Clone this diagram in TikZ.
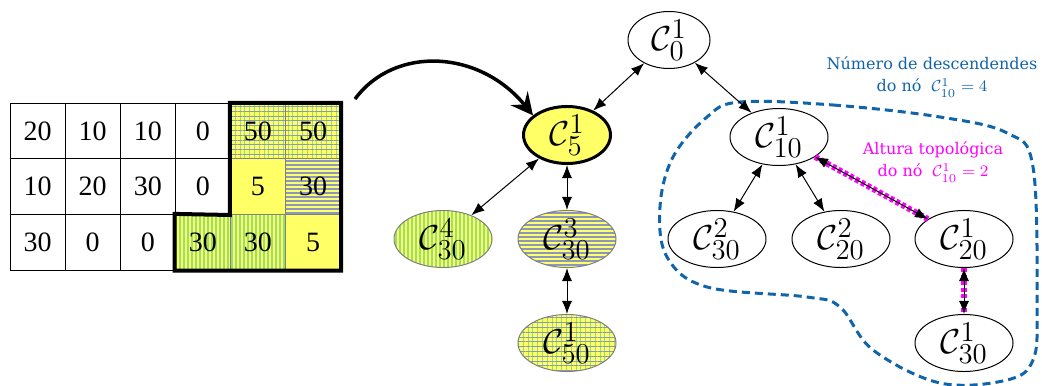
\documentclass[tikz,border=0pt]{standalone}
\usepackage{fontspec}
\setmainfont{Liberation Serif}
\newfontfamily\labelfont{DejaVu Serif}
\DeclareMathSizes{18}{18}{14.5}{11}
\DeclareMathSizes{8}{8}{6.5}{5}
\usetikzlibrary{arrows.meta,shapes.geometric,patterns.meta}
\definecolor{ylw}{RGB}{255,255,102}
\definecolor{strgreen}{RGB}{150,225,110}
\definecolor{strblue}{RGB}{140,150,195}
\definecolor{descblue}{RGB}{16,100,170}
\definecolor{altmag}{RGB}{255,0,255}
\tikzset{
    %Define standard arrow tip
    >={Latex[length=6.5pt,width=5pt]},
    %Define fills
    plainyl/.style={fill=ylw},
    vstripes/.style={
           preaction={fill=ylw},
           pattern={Lines[angle=90,distance=2pt,line width=0.6pt]},
           pattern color=strgreen},
    hstripes/.style={
           preaction={fill=ylw},
           pattern={Lines[angle=0,distance=2pt,line width=0.6pt]},
           pattern color=strblue},
    gstripes/.style={
           preaction={fill=ylw},
           preaction={pattern={Lines[angle=90,distance=2.4pt,line width=0.5pt]},
                      pattern color=strgreen},
           pattern={Lines[angle=0,distance=2.4pt,line width=0.5pt]},
           pattern color=strblue},
    %Define style for table cells
    cell/.style={
           rectangle,
           draw=black, line width=0.5pt,
           minimum width=27.55pt,
           minimum height=27.8pt,
           inner sep=0pt,
           font=\fontsize{14}{16}\selectfont},
    cellw/.style={},
    celly/.style={draw=gray, plainyl},
    cellv/.style={draw=gray, vstripes},
    cellh/.style={draw=gray, hstripes},
    cellg/.style={draw=gray, gstripes},
    %Define style for ellipses
    comp/.style={
           ellipse,
           draw=black, line width=0.5pt,
           fill=white,
           minimum width=49pt,
           minimum height=25.5pt,
           inner sep=0pt,
           font=\fontsize{18}{20}\selectfont},
    compyl/.style={comp, draw=gray},
    % Define arrow style
    pil/.style={
           <->,
           line width=0.5pt},
    magdots/.style={
           draw=altmag,
           line width=3pt,
           dash pattern=on 2pt off 1.3pt},
    blob/.style={
           draw=descblue,
           line width=1.5pt,
           dash pattern=on 4pt off 2.5pt},
    note/.style={
           align=center,
           font=\labelfont\fontsize{8}{11}\selectfont}
}
\begin{document}
\begin{tikzpicture}[x=0.5pt,y=-0.5pt]
\useasboundingbox (0,0) rectangle (1042,385);
 %table
\foreach \row [count=\r] in {
    {20/cellw,10/cellw,10/cellw,0/cellw,50/cellg,50/cellg},
    {10/cellw,20/cellw,30/cellw,0/cellw,5/celly,30/cellh},
    {30/cellw,0/cellw,0/cellw,30/cellv,30/cellv,5/celly}}
  \foreach \v/\s [count=\c] in \row
    \node[cell,\s] (t\r\c) at ({10+55.1*(\c-0.5)},{103.3+55.6*(\r-0.5)}) {\v};
\draw[line width=2pt, line join=miter] (t15.north west) -- (t16.north east) -- (t36.south east)
    -- (t34.south west) -- (t34.north west) -- (t25.south west) -- cycle;
 %nodes
\node[comp, minimum width=41pt, minimum height=26pt](c0) at (669,40) {$\mathcal{C}^{1}_{0}$};
\node[comp, plainyl, line width=1.5pt, minimum width=43.5pt, minimum height=28pt](c5) at (567,135) {$\mathcal{C}^{1}_{5}$};
\node[compyl, vstripes](c30a) at (443,239) {$\mathcal{C}^{4}_{30}$};
\node[compyl, hstripes](c30b) at (567,239) {$\mathcal{C}^{3}_{30}$};
\node[compyl, gstripes](c50) at (567,343) {$\mathcal{C}^{1}_{50}$};
\node[comp](c10) at (779,137) {$\mathcal{C}^{1}_{10}$};
\node[comp](c30c) at (717,239) {$\mathcal{C}^{2}_{30}$};
\node[comp](c20a) at (841,239) {$\mathcal{C}^{2}_{20}$};
\node[comp](c20b) at (964,239) {$\mathcal{C}^{1}_{20}$};
\node[comp](c30d) at (964,343) {$\mathcal{C}^{1}_{30}$};
 %descendants
\draw[blob] plot[smooth cycle, tension=0.6] coordinates {
    (740,102) (833,105) (940,117) (1007,133) (1033,167) (1037,307) (1033,360)
    (1007,380) (940,383) (873,350) (840,307) (807,297) (707,287) (667,257)
    (660,207) (673,157) (707,117)};
\node[note, text=descblue](numdesc) at (932,77) {N\'umero de descendendes\\do n\'o \ $\mathcal{C}^{1}_{10} = 4$};
\node[note, text=altmag](altura) at (933,162) {Altura topol\'ogica\\do n\'o \ $\mathcal{C}^{1}_{10} = 2$};
 %edges
\path[magdots] (c10) edge (c20b) (c20b) edge (c30d);
\path[pil]
    (c0) edge (c5) edge (c10)
    (c5) edge (c30a) edge (c30b)
    (c30b) edge (c50)
    (c10) edge (c30c) edge (c20a) edge (c20b)
    (c20b) edge (c30d);
\coordinate (tabout) at (355,99);
\draw[line width=1.75pt, -{Stealth[length=11pt,width=11pt,inset=4pt]}]
    (tabout) .. controls (395,45) and (480,50) .. (c5.150);
\end{tikzpicture}
\end{document}
